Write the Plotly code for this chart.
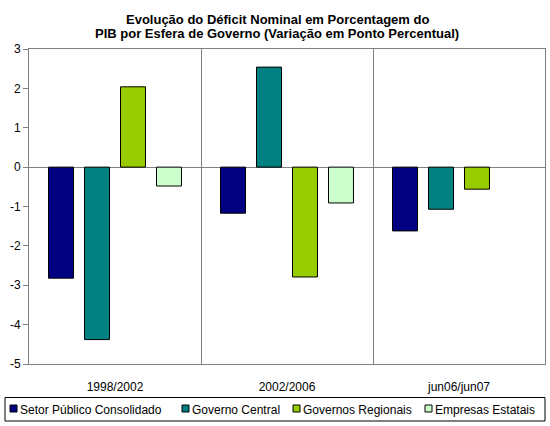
import plotly.graph_objects as go

categories = ["1998/2002", "2002/2006", "jun06/jun07"]
setor_publico = [-2.82, -1.17, -1.62]
governo_central = [-4.38, 2.54, -1.07]
governos_regionais = [2.04, -2.79, -0.56]
empresas_estatais = [-0.48, -0.91, None]
y_ticks = [-5, -4, -3, -2, -1, 0, 1, 2, 3]
y_tick_labels = ["-5", "-4", "-3", "-2", "-1", "0", "1", "2", "3"]
title_lines = ["Evolução do Déficit Nominal em Porcentagem do",
               "PIB por Esfera de Governo (Variação em Ponto Percentual)"]

series = [
    ("Setor Público Consolidado", setor_publico, "#000080"),
    ("Governo Central", governo_central, "#008080"),
    ("Governos Regionais", governos_regionais, "#99CC00"),
    ("Empresas Estatais", empresas_estatais, "#CCFFCC"),
]

W, H = 550, 426
ML, MR, MT, MB = 29, 5, 49, 62
PW, PH = W - ML - MR, H - MT - MB


def px_x(px):
    return (px - ML) / PW


def px_y(py):
    return (H - MB - py) / PH


font = "Liberation Sans, Arial, sans-serif"
fig = go.Figure()
for name, vals, color in series:
    fig.add_trace(go.Bar(
        x=categories, y=vals, name=name,
        marker=dict(color=color, line=dict(color="black", width=1)),
    ))

annotations = []
shapes = []
# title
for text, py in zip(title_lines, [19.5, 33.5]):
    annotations.append(dict(
        text="<b>%s</b>" % text, xref="paper", yref="paper",
        x=px_x(W / 2 + 2), y=px_y(py), xanchor="center", yanchor="middle",
        showarrow=False, font=dict(family=font, size=13, color="black"),
    ))

# legend (drawn manually to match the single-row boxed legend)
shapes.append(dict(
    type="rect", xref="paper", yref="paper",
    x0=px_x(5), x1=px_x(545), y0=px_y(397.5), y1=px_y(421),
    line=dict(color="black", width=1), fillcolor="white",
))
legend_text_left = [19, 191, 302, 434]
for (name, vals, color), tx in zip(series, legend_text_left):
    shapes.append(dict(
        type="rect", xref="paper", yref="paper",
        x0=px_x(tx - 9), x1=px_x(tx - 2), y0=px_y(405), y1=px_y(412),
        line=dict(color="black", width=1), fillcolor=color,
    ))
    annotations.append(dict(
        text=name, xref="paper", yref="paper", x=px_x(tx - 1), y=px_y(409.5),
        xanchor="left", yanchor="middle", showarrow=False,
        font=dict(family=font, size=12, color="black"),
    ))

fig.update_layout(
    width=W, height=H,
    margin=dict(l=ML, r=MR, t=MT, b=MB, autoexpand=False),
    paper_bgcolor="white", plot_bgcolor="white",
    barmode="group", bargap=0.163, bargroupgap=0.306,
    font=dict(family=font, size=12, color="black"),
    showlegend=False,
    annotations=annotations, shapes=shapes,
)
fig.update_xaxes(
    type="category", tickson="boundaries", showgrid=True, gridcolor="#808080",
    gridwidth=1, showline=True, linecolor="#808080", mirror=True,
    ticks="", ticklen=0, ticklabelstandoff=12,
    tickfont=dict(family=font, size=12),
)
fig.update_yaxes(
    range=[-5, 3], tickvals=y_ticks, ticktext=y_tick_labels, showgrid=False,
    zeroline=True, zerolinecolor="#808080", zerolinewidth=1, showline=True,
    linecolor="#808080", mirror=True, ticks="outside", ticklen=5,
    tickcolor="#808080", tickfont=dict(family=font, size=12),
)
fig.write_html("out.html")
